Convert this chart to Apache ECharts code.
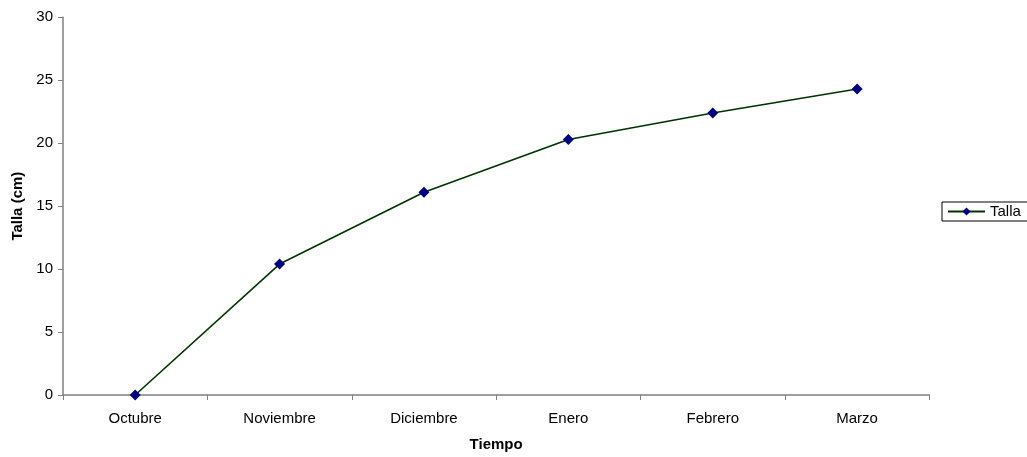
<!DOCTYPE html>
<html>
<head>
<meta charset="utf-8">
<script src="https://cdn.jsdelivr.net/npm/echarts@6/dist/echarts.min.js"></script>
<style>
  html, body { margin: 0; padding: 0; background: #fff; overflow: hidden; }
  #chart { width: 1027px; height: 457px; }
</style>
</head>
<body>
<div id="chart"></div>
<script>
// Monthly height measurements
const months = ['Octubre', 'Noviembre', 'Diciembre', 'Enero', 'Febrero', 'Marzo'];
const talla = [0, 10.4, 16.1, 20.3, 22.4, 24.3];
const yTicks = [0, 5, 10, 15, 20, 25, 30];

const chart = echarts.init(document.getElementById('chart'));
const font = 'Liberation Sans, Arial, sans-serif';
const axisGray = '#808080';

chart.setOption({
  animation: false,
  textStyle: { fontFamily: font },
  grid: { left: 63, top: 17.3, width: 866.3, height: 384, containLabel: false },
  legend: {
    left: 942,
    top: 202,
    orient: 'vertical',
    borderColor: '#000',
    borderWidth: 1,
    borderRadius: 0,
    padding: [2, 10, 2, 5],
    itemWidth: 37,
    itemHeight: 10,
    itemGap: 0,
    textStyle: { fontFamily: font, fontSize: 15, color: '#000' },
    data: ['Talla']
  },
  xAxis: {
    type: 'category',
    data: months,
    boundaryGap: true,
    name: 'Tiempo',
    nameLocation: 'middle',
    nameGap: 42,
    nameTextStyle: { fontFamily: font, fontSize: 15, fontWeight: 'bold', color: '#000' },
    axisLine: { lineStyle: { color: axisGray, width: 1.5 } },
    axisTick: { show: true, alignWithLabel: false, length: 5, lineStyle: { color: axisGray } },
    axisLabel: { fontFamily: font, fontSize: 15, color: '#000', margin: 16 },
    splitLine: { show: false }
  },
  yAxis: {
    type: 'value',
    min: yTicks[0],
    max: yTicks[yTicks.length - 1],
    interval: yTicks[1] - yTicks[0],
    name: 'Talla (cm)',
    nameLocation: 'middle',
    nameGap: 38,
    nameRotate: 90,
    nameTextStyle: { fontFamily: font, fontSize: 15, fontWeight: 'bold', color: '#000' },
    axisLine: { show: true, lineStyle: { color: axisGray, width: 1.5 } },
    axisTick: { show: true, inside: false, length: 5, lineStyle: { color: axisGray } },
    axisLabel: { fontFamily: font, fontSize: 15, color: '#000', margin: 10 },
    splitLine: { show: false }
  },
  series: [{
    name: 'Talla',
    type: 'line',
    data: talla,
    symbol: 'diamond',
    symbolSize: 11,
    showAllSymbol: true,
    lineStyle: { color: '#003300', width: 1.6 },
    itemStyle: { color: '#000080', borderWidth: 0 }
  }]
});
</script>
</body>
</html>
